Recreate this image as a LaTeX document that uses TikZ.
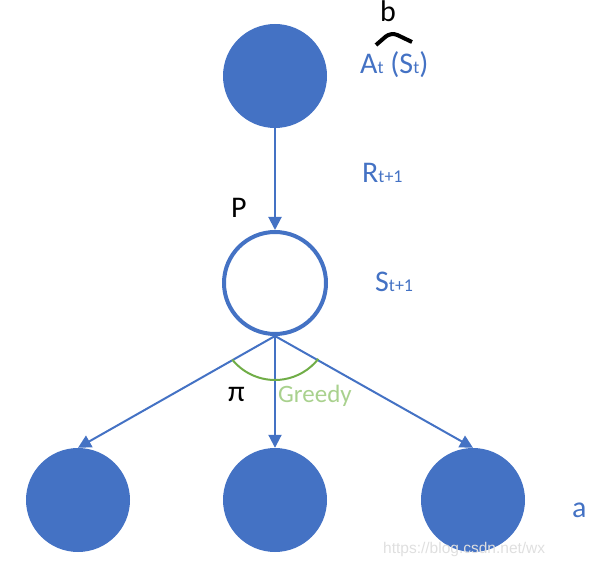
\documentclass[tikz,border=0pt]{standalone}
\usepackage{fontspec}
\setmainfont{Carlito}
\newfontfamily\markfont{Liberation Sans}
\usetikzlibrary{arrows.meta}
\definecolor{nodeblue}{HTML}{4472C4}
\definecolor{arcgreen}{HTML}{70AD47}
\definecolor{textgreen}{HTML}{A9D18E}
\newcommand{\bigtxt}{\fontsize{30}{34}\selectfont}
\newcommand{\subtxt}[1]{{\fontsize{18}{20}\selectfont #1}}

\begin{document}
\begin{tikzpicture}[x=1pt,y=1pt,
  fullnode/.style={circle,fill=nodeblue,minimum size=104pt,inner sep=0pt},
  opennode/.style={circle,draw=nodeblue,line width=4pt,fill=white,minimum size=102pt,inner sep=0pt},
  link/.style={draw=nodeblue,line width=2pt,-{Triangle[length=13pt,width=13pt]}},
  lbl/.style={anchor=base west,inner sep=0pt,text=nodeblue,font=\bigtxt}]
\useasboundingbox (0,0) rectangle (605,568);

% states and actions
\node[fullnode] (act) at (275,492) {};
\node[opennode] (nxt) at (275,285) {};
\node[fullnode] (leftact) at (78,68) {};
\node[fullnode] (midact) at (275,68) {};
\node[fullnode] (rightact) at (473,68) {};

\draw[link] (act.south) -- (nxt.north);
\draw[link] (nxt.south) -- (leftact.north);
\draw[link] (nxt.south) -- (midact.north);
\draw[link] (nxt.south) -- (rightact.north);

% greedy arc
\coordinate (greedyc) at (275,243);
\draw[arcgreen,line width=2pt] ([shift={(219:55)}]greedyc) arc (219:322:55);

% hat over A
\coordinate (hatl) at (376,523);
\coordinate (hattop) at (391,536);
\coordinate (hatr) at (412,526);
\draw[black,line width=4pt,rounded corners=7pt] (hatl) -- (hattop) -- (hatr);

\node[lbl,text=black] (blbl) at (380,546) {b};
\node[lbl] (albl) at (360,494) {A\subtxt{t} (S\subtxt{t})};
\node[lbl] (rlbl) at (362,385) {R\subtxt{t+1}};
\node[lbl,text=black] (plbl) at (231,350) {P};
\node[lbl] (slbl) at (375,276) {S\subtxt{t+1}};
\node[lbl,text=black] (pilbl) at (228,166) {π};
\node[lbl,text=textgreen,font=\fontsize{25}{28}\selectfont] (glbl) at (278,165) {Greedy};
\node[lbl] (albl2) at (572,51) {a};
\node[anchor=base west,inner sep=0pt,text=gray!25,font=\markfont\fontsize{15.5}{17}\selectfont] (mark) at (383,15) {https://blog.csdn.net/wx};
\end{tikzpicture}
\end{document}
